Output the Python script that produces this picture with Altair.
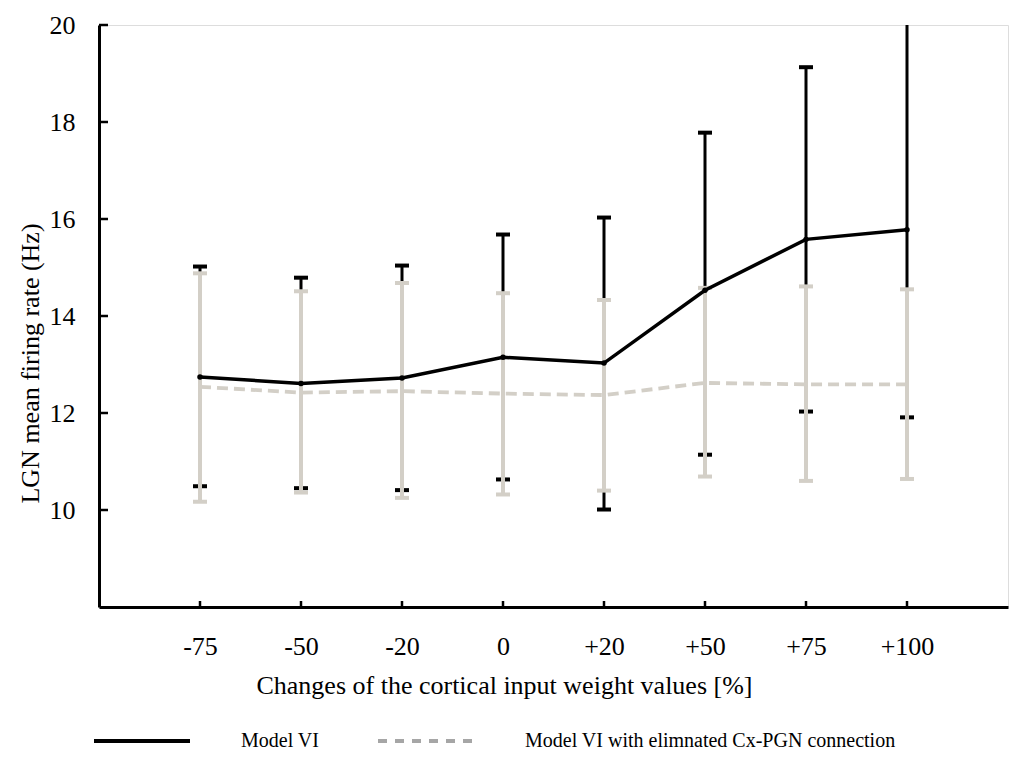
import altair as alt
import pandas as pd

categories = ["-75", "-50", "-20", "0", "+20", "+50", "+75", "+100"]

model_mean = [12.74, 12.61, 12.72, 13.15, 13.03, 14.53, 15.58, 15.78]
model_low = [10.49, 10.45, 10.41, 10.63, 10.01, 11.14, 12.03, 11.91]
model_high = [15.02, 14.79, 15.04, 15.68, 16.03, 17.78, 19.13, 20.9]

elim_mean = [12.54, 12.42, 12.45, 12.40, 12.37, 12.62, 12.59, 12.59]
elim_low = [10.17, 10.36, 10.25, 10.32, 10.40, 10.69, 10.60, 10.64]
elim_high = [14.88, 14.51, 14.68, 14.47, 14.33, 14.58, 14.61, 14.55]

y_ticks = [10, 12, 14, 16, 18, 20]

series_names = ["Model VI", "Model VI with elimnated Cx-PGN connection"]

FONT = "Liberation Serif"
BLACK = "#000000"
LIGHT = "#d3cfc7"
LEGEND_GRAY = "#a6a6a6"

m = pd.DataFrame({"cat": categories, "mean": model_mean, "low": model_low, "high": model_high})
e = pd.DataFrame({"cat": categories, "mean": elim_mean, "low": elim_low, "high": elim_high})
yt = pd.DataFrame({"v": y_ticks})
leg = pd.DataFrame({"cat": categories[:1], "mean": [12.0], "series": series_names[:1]})

xscale = alt.Scale(type="point", padding=1, domain=categories)
yscale = alt.Scale(domain=[8, 20], nice=False, zero=False)

xaxis = alt.Axis(
    title="Changes of the cortical input weight values [%]",
    labelFont=FONT, labelFontSize=26, labelColor="black", labelPadding=26,
    titleFont=FONT, titleFontSize=26, titleFontWeight="normal", titleColor="black",
    titleX=405, titleY=78, titleAlign="center", titleBaseline="middle",
    domainColor="black", domainWidth=3, tickSize=0, grid=False, labelAngle=0,
)
yaxis = alt.Axis(
    title="LGN mean firing rate (Hz)", values=y_ticks,
    labelFont=FONT, labelFontSize=26, labelColor="black", labelPadding=24,
    titleFont=FONT, titleFontSize=26, titleFontWeight="normal", titleColor="black",
    titleX=-69, titleY=338, titleAlign="center", titleBaseline="middle",
    domainColor="black", domainWidth=3, tickSize=0, grid=False,
)

X = alt.X("cat:N", scale=xscale, sort=categories, axis=xaxis)
Xn = alt.X("cat:N", scale=xscale, sort=categories)

# axis frame carrier
frame = alt.Chart(m).mark_point(opacity=0).encode(
    x=X, y=alt.Y("mean:Q", scale=yscale, axis=yaxis)
)

# inward ticks on the y axis
ytick = alt.Chart(yt).mark_rule(color="black", strokeWidth=2.5).encode(
    x=alt.value(0), x2=alt.value(9), y=alt.Y("v:Q", scale=yscale)
)
# inward ticks on the x axis
xtick = alt.Chart(m).mark_rule(color="black", strokeWidth=2.5).encode(
    x=Xn, y=alt.value(582), y2=alt.value(576)
)

def bars(df, color, width, cap):
    rule = alt.Chart(df).mark_rule(color=color, strokeWidth=width, clip=True).encode(
        x=Xn, y=alt.Y("low:Q", scale=yscale), y2="high:Q"
    )
    lo = alt.Chart(df).mark_tick(color=color, size=cap, thickness=4, opacity=1,
                                 orient="horizontal", clip=True).encode(
        x=Xn, y=alt.Y("low:Q", scale=yscale)
    )
    hi = alt.Chart(df).mark_tick(color=color, size=cap, thickness=4, opacity=1,
                                 orient="horizontal", clip=True).encode(
        x=Xn, y=alt.Y("high:Q", scale=yscale)
    )
    return rule + lo + hi

black_bars = bars(m, BLACK, 3, 14)
gray_bars = bars(e, LIGHT, 4, 14)

black_line = alt.Chart(m).mark_line(color=BLACK, strokeWidth=3.5).encode(
    x=Xn, y=alt.Y("mean:Q", scale=yscale)
)
black_pts = alt.Chart(m).mark_circle(color=BLACK, size=30, opacity=1).encode(
    x=Xn, y=alt.Y("mean:Q", scale=yscale)
)
dash_line = alt.Chart(e).mark_line(color=LIGHT, strokeWidth=3.8, strokeDash=[11, 6]).encode(
    x=Xn, y=alt.Y("mean:Q", scale=yscale)
)

legend_def = dict(
    title=None, orient="none", legendX=-7, legendY=666, direction="horizontal",
    symbolType="stroke", symbolSize=9216, symbolStrokeWidth=4, symbolOpacity=1,
    labelFont=FONT, labelFontSize=20, labelColor="black", labelOffset=49,
    columnPadding=50, labelLimit=600,
)

# single-point line: draws nothing, only carries the legend
legend_layer = alt.Chart(leg).mark_line(strokeWidth=4).encode(
    x=Xn, y=alt.Y("mean:Q", scale=yscale),
    color=alt.Color("series:N", scale=alt.Scale(domain=series_names, range=[BLACK, LEGEND_GRAY]),
                    legend=alt.Legend(**legend_def)),
    strokeDash=alt.StrokeDash("series:N", scale=alt.Scale(domain=series_names, range=[[1, 0], [9, 8]]),
                              legend=alt.Legend(**legend_def)),
)

chart = alt.layer(
    frame, black_bars, gray_bars, black_line, black_pts, dash_line, ytick, xtick, legend_layer
).properties(
    width=909, height=582,
    autosize=alt.AutoSizeParams(type="none"),
    padding={"left": 99, "top": 25, "right": 2, "bottom": 164},
).configure_view(stroke=None).configure(background="white")

chart.save("out.html", embed_options={"renderer": "svg", "actions": False})
